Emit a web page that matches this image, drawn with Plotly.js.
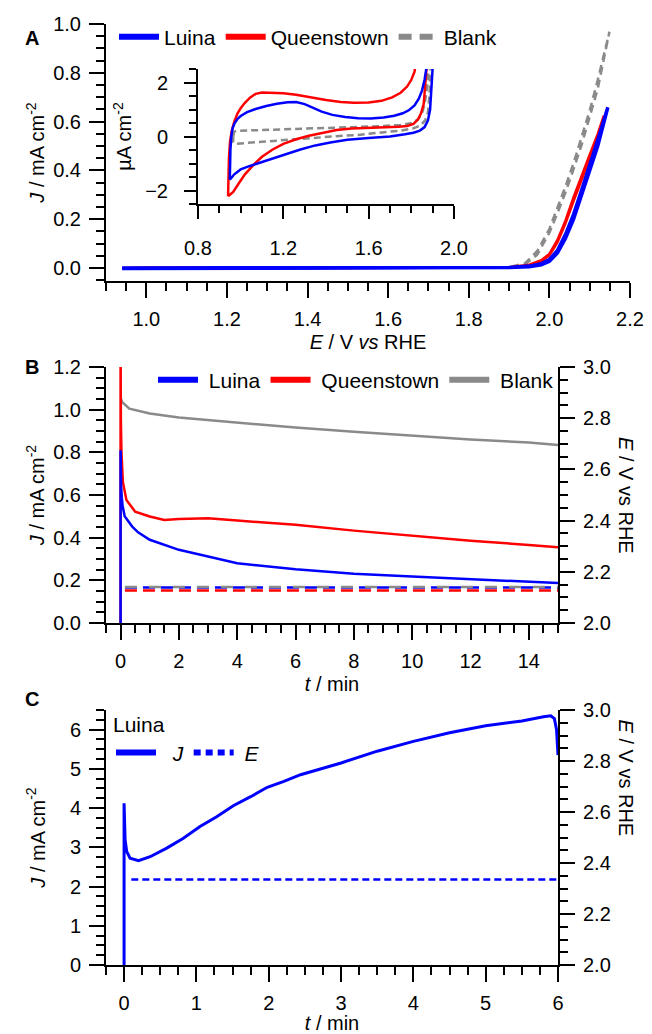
<!DOCTYPE html>
<html><head><meta charset="utf-8">
<script src="https://cdn.plot.ly/plotly-3.0.1.min.js"></script>
<style>html,body{margin:0;padding:0;background:#fff}#chart{width:652px;height:1034px}</style>
</head><body><div id="chart"></div>
<script>
// ---------- Panel A: main linear sweep (mA cm-2) ----------
const aLuinaE = [0.94,1.0,1.2,1.4,1.6,1.8,1.9,1.95,1.98,2.0,2.02,2.04,2.06,2.08,2.10,2.12,2.145,2.12,2.10,2.08,2.06,2.04,2.02,2.0,1.98,1.95,1.9,1.6,1.2,0.94];
const aLuinaJ = [0.0,0.001,0.001,0.001,0.001,0.001,0.002,0.008,0.018,0.035,0.072,0.138,0.22,0.32,0.42,0.525,0.659,0.50,0.40,0.30,0.20,0.122,0.062,0.028,0.013,0.005,0.002,0.0,-0.001,-0.002];
const aQueenE = [0.94,1.0,1.2,1.4,1.6,1.8,1.9,1.95,1.98,2.0,2.02,2.04,2.06,2.08,2.10,2.12,2.135,2.12,2.10,2.08,2.06,2.04,2.02,2.0,1.98,1.95,1.9,1.6,1.2,0.94];
const aQueenJ = [0.0,0.002,0.002,0.001,0.001,0.002,0.003,0.014,0.032,0.058,0.115,0.195,0.29,0.38,0.465,0.55,0.624,0.535,0.45,0.365,0.275,0.183,0.105,0.052,0.027,0.011,0.003,0.001,-0.001,-0.002];
const aBlankE = [0.97,1.2,1.6,1.8,1.9,1.94,1.97,2.0,2.02,2.04,2.06,2.08,2.10,2.12,2.149,2.12,2.10,2.08,2.06,2.04,2.02,2.0,1.97,1.94,1.9,1.6,1.2,0.97];
const aBlankJ = [0.0,0.0,0.0,0.001,0.003,0.02,0.07,0.16,0.245,0.335,0.43,0.535,0.645,0.77,0.968,0.735,0.615,0.505,0.405,0.31,0.225,0.145,0.055,0.015,0.002,0.0,0.0,0.0];

// ---------- Panel A inset: CV (µA cm-2) ----------
const inLuinaE = [0.949,0.950,0.952,0.956,0.962,0.972,0.985,1.0,1.03,1.07,1.12,1.17,1.22,1.26,1.30,1.34,1.38,1.43,1.49,1.55,1.61,1.67,1.72,1.76,1.79,1.815,1.835,1.85,1.862,1.872,1.88,
  1.905,1.90,1.895,1.888,1.878,1.862,1.84,1.81,1.77,1.7,1.6,1.5,1.42,1.35,1.28,1.22,1.15,1.09,1.04,1.0,0.97,0.949];
const inLuinaJ = [-1.6,-1.0,-0.49,0.0,0.3,0.5,0.65,0.76,0.9,1.02,1.13,1.21,1.27,1.28,1.2,1.06,0.92,0.8,0.72,0.68,0.67,0.7,0.77,0.86,0.98,1.15,1.4,1.7,2.1,2.6,3.2,
  3.2,2.5,1.8,1.0,0.6,0.35,0.22,0.14,0.08,0.0,-0.06,-0.12,-0.22,-0.33,-0.48,-0.63,-0.8,-0.95,-1.1,-1.22,-1.4,-1.6];
const inQueenE = [0.941,0.942,0.945,0.95,0.958,0.97,0.985,1.0,1.02,1.045,1.07,1.1,1.15,1.2,1.26,1.33,1.4,1.47,1.53,1.6,1.66,1.71,1.75,1.78,1.80,1.815,1.83,
  1.878,1.872,1.866,1.858,1.845,1.83,1.81,1.78,1.74,1.68,1.6,1.52,1.45,1.38,1.32,1.26,1.2,1.15,1.1,1.06,1.02,0.99,0.965,0.941];
const inQueenJ = [-2.21,-1.5,-0.8,-0.2,0.2,0.55,0.85,1.05,1.25,1.45,1.58,1.63,1.62,1.6,1.55,1.45,1.35,1.28,1.25,1.26,1.32,1.45,1.62,1.85,2.1,2.4,3.2,
  3.2,2.5,1.8,1.2,0.85,0.62,0.47,0.39,0.36,0.35,0.33,0.3,0.24,0.14,0.03,-0.1,-0.27,-0.48,-0.75,-1.05,-1.4,-1.75,-2.05,-2.21];
const inBlankE = [0.965,0.97,0.98,1.1,1.2,1.35,1.5,1.65,1.75,1.8,1.83,1.85,1.862,1.872,1.88,1.886,
  1.894,1.89,1.885,1.878,1.865,1.845,1.81,1.75,1.67,1.55,1.43,1.3,1.2,1.1,1.0,0.975,0.965,0.965];
const inBlankJ = [0.0,0.18,0.21,0.24,0.26,0.3,0.33,0.38,0.43,0.5,0.62,0.85,1.2,1.7,2.4,3.2,
  3.2,2.4,1.5,0.9,0.6,0.42,0.3,0.22,0.15,0.06,0.0,-0.08,-0.13,-0.2,-0.26,-0.27,-0.2,0.0];

// ---------- Panel B: chronoamperometry ----------
const bLuinaT = [0,0,0.01,0.02,0.04,0.07,0.14,0.25,0.4,0.6,1,2,3,4,6,8,10,12,14,15];
const bLuinaJ = [0,0.81,0.70,0.64,0.59,0.55,0.50,0.48,0.452,0.425,0.39,0.343,0.312,0.28,0.252,0.231,0.218,0.206,0.195,0.187];
const bQueenT = [0,0,0.01,0.03,0.08,0.2,0.5,1,1.5,2,3,4,6,8,10,12,14,15];
const bQueenJ = [0,1.3,0.95,0.8,0.66,0.577,0.522,0.499,0.483,0.488,0.491,0.48,0.46,0.433,0.408,0.386,0.366,0.355];
const bBlankT = [0.02,0.05,0.3,1,2,3,4,6,8,9.5,10,12,14,15];
const bBlankJ = [1.05,1.036,1.005,0.982,0.963,0.951,0.938,0.916,0.896,0.882,0.879,0.86,0.846,0.834];
const bET = [0.15,15];
const bLuinaE = [2.139,2.139];
const bQueenE = [2.127,2.127];
const bBlankE = [2.141,2.141];

// ---------- Panel C: Luina ----------
const cT = [0,0,0.014,0.037,0.083,0.2,0.36,0.59,0.82,1.05,1.28,1.51,1.75,1.98,2.21,2.44,3,3.5,4,4.5,5,5.5,5.8,5.9,5.95,5.98,6.0];
const cJ = [0,4.12,3.19,2.89,2.72,2.66,2.76,2.98,3.23,3.53,3.78,4.06,4.29,4.53,4.68,4.85,5.15,5.45,5.7,5.92,6.1,6.22,6.33,6.35,6.28,6.0,5.35];
const cET = [0.1,6];
const cE = [2.335,2.335];

// ---------- styling ----------
const FONT = 'Liberation Sans, Arial, Helvetica, sans-serif';
const BLUE = '#0000ff', RED = '#ff0000', GRAY = '#8a8a8a';
const W = 652, H = 1034;
const fx = p => p / W, fy = p => 1 - p / H;

function axis(extra, minorDtick, minorLen) {
  return Object.assign({
    showline: true, linecolor: '#000', linewidth: 2,
    ticks: 'outside', ticklen: 15, tickwidth: 2, tickcolor: '#000',
    showgrid: false, zeroline: false, fixedrange: true,
    tickfont: {family: FONT, size: 20, color: '#000'},
    minor: {ticks: 'outside', ticklen: minorLen || 8, tickwidth: 2, tickcolor: '#000', showgrid: false, dtick: minorDtick}
  }, extra);
}
const tfont = {family: FONT, size: 20, color: '#000'};
const lfont = {family: FONT, size: 21, color: '#000'};

const line = (x, y, xa, ya, color, width, dash) => ({
  type: 'scatter', mode: 'lines', x, y, xaxis: xa, yaxis: ya,
  line: {color, width, dash: dash || 'solid'}, showlegend: false, hoverinfo: 'skip'
});
const key = (name, color, width, dash, legend) => ({
  type: 'scatter', mode: 'lines', x: [null], y: [null], name,
  line: {color, width, dash: dash || 'solid'}, showlegend: true, legend, xaxis: 'x', yaxis: 'y'
});

const data = [
  line(aBlankE, aBlankJ, 'x', 'y', GRAY, 2.5, '8px,5px'),
  line(aQueenE, aQueenJ, 'x', 'y', RED, 2.5),
  line(aLuinaE, aLuinaJ, 'x', 'y', BLUE, 3.5),
  line(inBlankE, inBlankJ, 'x2', 'y2', GRAY, 2.5, '7px,4px'),
  line(inQueenE, inQueenJ, 'x2', 'y2', RED, 2.5),
  line(inLuinaE, inLuinaJ, 'x2', 'y2', BLUE, 2.5),
  line(bBlankT, bBlankJ, 'x3', 'y3', GRAY, 2.5),
  line(bQueenT, bQueenJ, 'x3', 'y3', RED, 2.5),
  line(bLuinaT, bLuinaJ, 'x3', 'y3', BLUE, 2.5),
  line(bET, bLuinaE, 'x3', 'y4', BLUE, 2.5, '12px,6px'),
  line(bET, bQueenE, 'x3', 'y4', RED, 2.5, '12px,6px'),
  line(bET, bBlankE, 'x3', 'y4', GRAY, 2.5, '12px,12px'),
  line(cT, cJ, 'x4', 'y5', BLUE, 3),
  line(cET, cE, 'x4', 'y6', BLUE, 2.5, '7px,4px'),
  key('Luina', BLUE, 6, null, 'legend'),
  key('Queenstown', RED, 6, null, 'legend'),
  key('Blank', GRAY, 6, '13px,8px', 'legend'),
  key('\u00a0Luina', BLUE, 6, null, 'legend2'),
  key('\u00a0Queenstown', RED, 6, null, 'legend2'),
  key('\u00a0Blank', GRAY, 6, null, 'legend2'),
  key('\u00a0\u00a0<i>J</i>', BLUE, 6, null, 'legend3'),
  key('\u00a0<i>E</i>', BLUE, 6, '7px,5px', 'legend3')
];

const legendBase = {orientation: 'h', xanchor: 'left', yanchor: 'middle', font: lfont,
  bgcolor: 'rgba(0,0,0,0)', borderwidth: 0, itemwidth: 40, itemclick: false, itemdoubleclick: false};

const layout = {
  width: W, height: H, margin: {l: 0, r: 0, t: 0, b: 0},
  paper_bgcolor: '#fff', plot_bgcolor: 'rgba(0,0,0,0)',
  font: tfont, showlegend: true,
  xaxis: axis({domain: [fx(106), fx(630)], range: [0.9, 2.2], dtick: 0.2, tick0: 0, tickformat: '.1f', anchor: 'y',
    ticklabelstandoff: 4,
    title: {text: '<i>E</i> / V <i>vs</i> RHE', font: tfont, standoff: 6}}, 0.05),
  yaxis: axis({domain: [fy(281), fy(24)], range: [-0.053, 1.0], dtick: 0.2, tick0: 0, tickformat: '.1f', anchor: 'x',
    ticklabelstandoff: 4,
    title: {text: '<i>J</i> / mA cm<sup>-2</sup>', font: tfont, standoff: 3}}, 0.05),
  xaxis2: axis({domain: [fx(198), fx(454)], range: [0.8, 2.0], dtick: 0.4, tick0: 0.8, tickformat: '.1f',
    anchor: 'y2', ticklen: 13, ticklabelstandoff: 12}, 0.1, 7),
  yaxis2: axis({domain: [fy(204), fy(69)], range: [-2.5, 2.5], dtick: 2, tick0: 0,
    anchor: 'x2', ticklen: 12, ticklabelstandoff: 12,
    title: {text: 'µA cm<sup>-2</sup>', font: tfont, standoff: 8}}, 0.5, 7),
  xaxis3: axis({domain: [fx(106), fx(558)], range: [-0.5, 15], dtick: 2, tick0: 0, anchor: 'y3',
    ticklabelstandoff: 4,
    title: {text: '<i>t</i> / min', font: tfont, standoff: 6}}, 0.5),
  yaxis3: axis({domain: [fy(623), fy(367)], range: [0, 1.2], dtick: 0.2, tick0: 0, tickformat: '.1f', anchor: 'x3',
    ticklabelstandoff: 4,
    title: {text: '<i>J</i> / mA cm<sup>-2</sup>', font: tfont, standoff: 3}}, 0.05),
  yaxis4: axis({overlaying: 'y3', side: 'right', anchor: 'x3', range: [2, 3], dtick: 0.2, tick0: 2, tickformat: '.1f',
    ticklabelstandoff: 4}, 0.05),
  xaxis4: axis({domain: [fx(106), fx(558)], range: [-0.25, 6], dtick: 1, tick0: 0, anchor: 'y5',
    ticklabelstandoff: 4,
    title: {text: '<i>t</i> / min', font: tfont, standoff: 9}}, 0.25),
  yaxis5: axis({domain: [fy(965), fy(710)], range: [0, 6.5], dtick: 1, tick0: 0, anchor: 'x4',
    ticklabelstandoff: 4,
    title: {text: '<i>J</i> / mA cm<sup>-2</sup>', font: tfont, standoff: 19}}, 0.25),
  yaxis6: axis({overlaying: 'y5', side: 'right', anchor: 'x4', range: [2, 3], dtick: 0.2, tick0: 2, tickformat: '.1f',
    ticklabelstandoff: 4}, 0.05),
  legend: Object.assign({}, legendBase, {x: fx(114), y: fy(37)}),
  legend2: Object.assign({}, legendBase, {x: fx(153), y: fy(380)}),
  legend3: Object.assign({}, legendBase, {x: fx(111), y: fy(705), yanchor: 'top',
    title: {text: 'Luina', font: lfont, side: 'top'}}),
  annotations: [
    {text: '<b>A</b>', x: fx(23), y: fy(25), xref: 'paper', yref: 'paper', showarrow: false, font: tfont},
    {text: '<b>B</b>', x: fx(23), y: fy(367), xref: 'paper', yref: 'paper', showarrow: false, font: tfont},
    {text: '<b>C</b>', x: fx(23), y: fy(712), xref: 'paper', yref: 'paper', showarrow: false, font: tfont},
    {text: '<i>E</i> / V vs RHE', x: fx(639), y: fy(495), xref: 'paper', yref: 'paper', showarrow: false, textangle: 90, font: tfont},
    {text: '<i>E</i> / V vs RHE', x: fx(639), y: fy(838), xref: 'paper', yref: 'paper', showarrow: false, textangle: 90, font: tfont}
  ]
};

Plotly.newPlot('chart', data, layout, {staticPlot: true, displayModeBar: false});
</script>
</body></html>
